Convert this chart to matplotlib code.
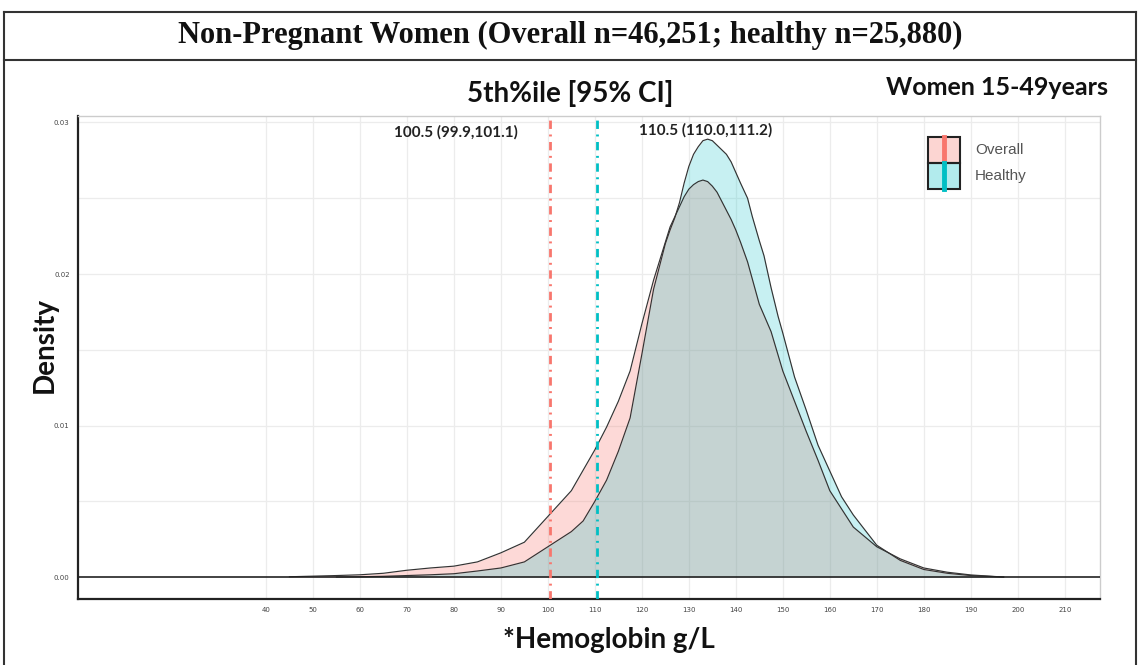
import matplotlib
matplotlib.use("Agg")
import matplotlib.pyplot as plt
from matplotlib.patches import Rectangle
from matplotlib.lines import Line2D

# Data (hemoglobin g/L vs density)
overall_x = [45, 50, 55, 60, 65, 70, 75, 80, 85, 90, 95, 100, 105, 110, 112.5,
             115, 117.5, 120, 122.5, 125, 126, 127.5, 129, 130, 131, 132, 133,
             134, 135, 136, 137, 138, 139, 140, 141, 142.5, 145, 147.5, 150,
             152.5, 155, 157.5, 160, 165, 170, 175, 180, 185, 190, 195, 197]
overall_y = [0.00002, 0.00006, 0.0001, 0.00015, 0.00025, 0.00045, 0.0006,
             0.00072, 0.001, 0.0016, 0.0023, 0.0040, 0.0057, 0.0084, 0.0099,
             0.0116, 0.0136, 0.0167, 0.0196, 0.0221, 0.0231, 0.0241, 0.0251,
             0.0256, 0.0259, 0.0261, 0.0262, 0.0261, 0.0258, 0.0254, 0.0248,
             0.0242, 0.0236, 0.0229, 0.0221, 0.0208, 0.0180, 0.0162, 0.0136,
             0.0116, 0.0096, 0.0077, 0.0057, 0.0033, 0.0020, 0.0012, 0.0006,
             0.00032, 0.00014, 0.00004, 0.0]

healthy_x = [55, 60, 65, 70, 75, 80, 85, 90, 95, 100, 105, 107.5, 110, 112.5,
             115, 117.5, 120, 122.5, 125, 126, 127, 128, 129, 130, 131, 132,
             133, 134, 135, 136, 137, 138, 139, 140, 141, 142.5, 143.5, 145,
             146, 147.5, 149, 150, 152.5, 155, 157.5, 160, 162.5, 165, 170,
             175, 180, 185, 190, 195, 197]
healthy_y = [0.0, 0.00002, 0.00005, 0.0001, 0.00015, 0.00022, 0.0004, 0.0006,
             0.001, 0.0020, 0.0030, 0.0037, 0.0050, 0.0064, 0.0083, 0.0105,
             0.0147, 0.0190, 0.0220, 0.0229, 0.0237, 0.0247, 0.0260, 0.0271,
             0.0279, 0.0284, 0.0288, 0.0289, 0.0288, 0.0285, 0.0282, 0.0279,
             0.0274, 0.0267, 0.0260, 0.0250, 0.0238, 0.0222, 0.0212, 0.0191,
             0.0172, 0.0161, 0.0132, 0.0110, 0.0087, 0.0070, 0.0053, 0.0041,
             0.0021, 0.0011, 0.0005, 0.00025, 0.0001, 0.00003, 0.0]

p5_overall = 100.5
p5_healthy = 110.5
label_overall = "100.5 (99.9,101.1)"
label_healthy = "110.5 (110.0,111.2)"
x_ticks = list(range(40, 211, 10))
y_ticks = [0.00, 0.01, 0.02, 0.03]

red = "#F8766D"
cyan = "#00BFC4"
sans_bold = "Lato"

fig = plt.figure(figsize=(11.42, 6.65), dpi=100)
ax = fig.add_axes([0.0683, 0.0992, 0.8949, 0.7264])

# grid
for gx in x_ticks:
    ax.axvline(gx, color="#ececec", lw=0.9, zorder=0)
for gy in [0.005, 0.01, 0.015, 0.02, 0.025, 0.03]:
    ax.axhline(gy, color="#ececec", lw=0.9, zorder=0)

# densities
ax.fill_between(overall_x, overall_y, 0, color=red, alpha=0.27, lw=0, zorder=2)
ax.plot(overall_x, overall_y, color="#333333", lw=0.85, zorder=4)
ax.fill_between(healthy_x, healthy_y, 0, color=cyan, alpha=0.22, lw=0, zorder=3)
ax.plot(healthy_x, healthy_y, color="#333333", lw=0.85, zorder=4)

ax.axhline(0, color="#222222", lw=1.2, zorder=5)

# 5th percentile lines
ax.axvline(p5_overall, color=red, lw=2.0, ls=(0, (3, 2, 0.7, 2)), zorder=6)
ax.axvline(p5_healthy, color=cyan, lw=2.0, ls=(0, (3, 2, 0.7, 2)), zorder=6)

ax.text(80.5, 0.02937, label_overall, ha="center", va="center",
        fontsize=11, fontweight="bold", family=sans_bold, color="#222222")
ax.text(133.5, 0.0295, label_healthy, ha="center", va="center",
        fontsize=11, fontweight="bold", family=sans_bold, color="#222222")

ax.set_xlim(0, 217.5)
ax.set_ylim(-0.00145, 0.03043)
ax.set_xticks(x_ticks)
ax.set_yticks(y_ticks)
ax.set_yticklabels([f"{v:.2f}" for v in y_ticks])
ax.tick_params(length=0, labelsize=5, labelcolor="#444444", pad=6)

for s in ["left", "bottom"]:
    ax.spines[s].set_color("#222222")
    ax.spines[s].set_linewidth(1.6)
for s in ["top", "right"]:
    ax.spines[s].set_color("#cccccc")
    ax.spines[s].set_linewidth(1.0)

# legend drawn by hand
legend_items = [("Overall", red, 0.9565), ("Healthy", cyan, 0.9027)]
for name, col, top in legend_items:
    ax.add_patch(Rectangle((0.8317, top - 0.0538), 0.0313, 0.0538,
                           transform=ax.transAxes, facecolor=col, alpha=0.3,
                           edgecolor="none", zorder=7))
    ax.add_patch(Rectangle((0.8317, top - 0.0538), 0.0313, 0.0538,
                           transform=ax.transAxes, facecolor="none",
                           edgecolor="#222222", lw=1.5, zorder=8))
    ax.add_line(Line2D([0.8474, 0.8474], [top - 0.0538, top],
                       transform=ax.transAxes, color=col, lw=3.5, zorder=9))
    ax.text(0.8777, top - 0.027, name, transform=ax.transAxes, ha="left",
            va="center", fontsize=11, color="#555555", family="Liberation Sans")

# labels and headings
fig.text(0.499, 0.947, "Non-Pregnant Women (Overall n=46,251; healthy n=25,880)",
         ha="center", va="center", fontsize=22, fontweight="bold",
         family="Liberation Serif", color="#111111")
fig.text(0.499, 0.860, "5th%ile [95% CI]", ha="center", va="center",
         fontsize=20, fontweight="bold", family=sans_bold, color="#111111")
fig.text(0.970, 0.868, "Women 15-49years", ha="right", va="center",
         fontsize=18, fontweight="bold", family=sans_bold, color="#111111")
fig.text(0.0394, 0.481, "Density", ha="center", va="center", rotation=90,
         fontsize=20, fontweight="bold", family=sans_bold, color="#111111")
fig.text(0.533, 0.0376, "*Hemoglobin g/L", ha="center", va="center",
         fontsize=20, fontweight="bold", family=sans_bold, color="#111111")

# table frame around the figure
frame = dict(color="#333333", lw=1.5, transform=fig.transFigure)
fig.add_artist(Line2D([0.0035, 0.9947], [0.982, 0.982], **frame))
fig.add_artist(Line2D([0.0035, 0.9947], [0.9105, 0.9105], **frame))
fig.add_artist(Line2D([0.0035, 0.0035], [0.0, 0.982], **frame))
fig.add_artist(Line2D([0.9947, 0.9947], [0.0, 0.982], **frame))

fig.savefig("out.png", dpi=100)
